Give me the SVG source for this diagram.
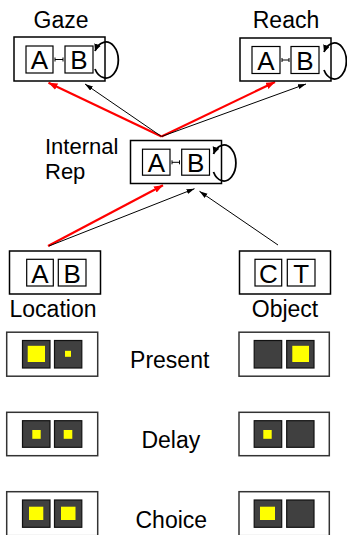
<svg xmlns="http://www.w3.org/2000/svg" width="347" height="535" viewBox="0 0 347 535">
<defs>
<style>
text{font-family:"Liberation Sans",Arial,sans-serif;fill:#000}
.lbl{font-size:23px}
.lbl2{font-size:22px}
.cell{font-size:26px;text-anchor:middle}
.box{fill:#fff;stroke:#000;stroke-width:1.5}
.ibox{fill:#fff;stroke:#000;stroke-width:1.2}
.pbox{fill:#fff;stroke:#333;stroke-width:1.5}
.dk{fill:#404040;stroke:#111;stroke-width:1.2}
.y{fill:#ffff00}
.loop{fill:none;stroke:#000;stroke-width:1.8}
.lnk{stroke:#000;stroke-width:1;fill:none}
.red{stroke:#ff0000;stroke-width:2.2;fill:none}
.blk{stroke:#000;stroke-width:1;fill:none}
</style>
<marker id="ar" markerUnits="userSpaceOnUse" markerWidth="10" markerHeight="8" refX="9" refY="3.5" orient="auto"><path d="M0,0 L9,3.5 L0,7 z" fill="#ff0000"/></marker>
<marker id="ab" markerUnits="userSpaceOnUse" markerWidth="9" markerHeight="6" refX="8" refY="2.5" orient="auto"><path d="M0,0 L8,2.5 L0,5 z" fill="#000"/></marker>
<marker id="al" markerUnits="userSpaceOnUse" markerWidth="9" markerHeight="8" refX="7" refY="3.5" orient="auto"><path d="M0,0 L7,3.5 L0,7 z" fill="#000"/></marker>
</defs>

<g id="connectors">
<line class="red" x1="161.5" y1="136.5" x2="48.5" y2="82.8" marker-end="url(#ar)"/>
<line class="blk" x1="161.5" y1="136.5" x2="85" y2="84" marker-end="url(#ab)"/>
<line class="red" x1="161.5" y1="136.5" x2="275" y2="82" marker-end="url(#ar)"/>
<line class="blk" x1="161.5" y1="136.5" x2="306" y2="84" marker-end="url(#ab)"/>
<line class="red" x1="48" y1="246" x2="163" y2="185.3" marker-end="url(#ar)"/>
<line class="blk" x1="49" y1="246" x2="194.5" y2="188.7" marker-end="url(#ab)"/>
<line class="blk" x1="278" y1="245" x2="199.5" y2="191.3" marker-end="url(#ab)"/>
</g>

<g id="gaze">
<text class="lbl" x="61" y="28" text-anchor="middle">Gaze</text>
<rect class="box" x="14" y="37" width="91" height="44"/>
<rect class="ibox" x="26" y="46" width="27" height="27"/>
<rect class="ibox" x="65" y="46" width="28" height="27"/>
<text class="cell" x="39.5" y="69">A</text>
<text class="cell" x="79" y="69">B</text>
<path class="lnk" d="M55,59.5 H63 M55,57.5 V61.5 M63,57.5 V61.5"/>
<path class="loop" d="M95,69 A12.5 18 0 1 0 95,51" marker-end="url(#al)"/>
</g>

<g id="reach">
<text class="lbl" x="286" y="28" text-anchor="middle">Reach</text>
<rect class="box" x="240" y="38" width="91" height="43"/>
<rect class="ibox" x="252" y="46.5" width="28" height="27"/>
<rect class="ibox" x="291" y="46.5" width="28" height="27"/>
<text class="cell" x="266" y="69.5">A</text>
<text class="cell" x="305" y="69.5">B</text>
<path class="lnk" d="M282,60 H289 M282,58 V62 M289,58 V62"/>
<path class="loop" d="M324,70 A12 18 0 1 0 324,52" marker-end="url(#al)"/>
</g>

<g id="internal-rep">
<text class="lbl2" x="45" y="154">Internal</text>
<text class="lbl2" x="45" y="178.8">Rep</text>
<rect class="box" x="130.5" y="140.5" width="91" height="43"/>
<rect class="ibox" x="142.5" y="149.2" width="27.5" height="26"/>
<rect class="ibox" x="181.7" y="149.2" width="27.8" height="26"/>
<text class="cell" x="156.3" y="171.5">A</text>
<text class="cell" x="195.6" y="171.5">B</text>
<path class="lnk" d="M172,162.3 H179.5 M172,160.3 V164.3 M179.5,160.3 V164.3"/>
<path class="loop" d="M213.5,172 A12 18 0 1 0 213.5,154" marker-end="url(#al)"/>
</g>

<g id="location">
<rect class="box" x="9.5" y="251" width="91" height="43"/>
<rect class="ibox" x="26.7" y="259.3" width="26.6" height="26.7"/>
<rect class="ibox" x="58.3" y="259.3" width="27.7" height="26.7"/>
<text class="cell" x="40" y="282.5">A</text>
<text class="cell" x="72.2" y="282.5">B</text>
<text class="lbl" x="53" y="316.7" text-anchor="middle">Location</text>
</g>

<g id="object">
<rect class="box" x="239.5" y="251" width="91" height="43"/>
<rect class="ibox" x="255" y="259.3" width="26.7" height="26.7"/>
<rect class="ibox" x="287.3" y="259.3" width="27.7" height="26.7"/>
<text class="cell" x="268.4" y="282.5">C</text>
<text class="cell" x="301.2" y="282.5">T</text>
<text class="lbl" x="285" y="317" text-anchor="middle">Object</text>
</g>

<g id="present">
<rect class="pbox" x="6.7" y="332.2" width="91" height="44"/>
<rect class="dk" x="22.5" y="340.5" width="27.5" height="27.5"/>
<rect class="dk" x="54.5" y="340.5" width="27.3" height="27.5"/>
<rect class="y" x="27.7" y="345.8" width="17.3" height="16.2"/>
<rect class="y" x="65" y="350.8" width="6" height="6"/>
<text class="lbl" x="169.7" y="368.3" text-anchor="middle">Present</text>
<rect class="pbox" x="239" y="332.2" width="90.3" height="44"/>
<rect class="dk" x="254.2" y="340.5" width="27.5" height="27.5"/>
<rect class="dk" x="286.7" y="340.5" width="27.3" height="27.5"/>
<rect class="y" x="292.3" y="345.8" width="16.7" height="16.2"/>
</g>

<g id="delay">
<rect class="pbox" x="6.7" y="412.3" width="91" height="43.4"/>
<rect class="dk" x="22.5" y="420.7" width="27.5" height="26.6"/>
<rect class="dk" x="54.5" y="420.7" width="27.3" height="26.6"/>
<rect class="y" x="32.3" y="430" width="8.4" height="8.8"/>
<rect class="y" x="63.7" y="430" width="8.6" height="8.8"/>
<text class="lbl" x="170.8" y="448.3" text-anchor="middle">Delay</text>
<rect class="pbox" x="239" y="412.3" width="90.3" height="43.4"/>
<rect class="dk" x="254.2" y="420.7" width="27.5" height="26.6"/>
<rect class="dk" x="286.7" y="420.7" width="27.3" height="26.6"/>
<rect class="y" x="263.3" y="430" width="8.4" height="8.8"/>
</g>

<g id="choice">
<rect class="pbox" x="6.7" y="491.7" width="91" height="44"/>
<rect class="dk" x="22.5" y="500" width="27.5" height="27.3"/>
<rect class="dk" x="54.5" y="500" width="27.3" height="27.3"/>
<rect class="y" x="29" y="506.7" width="14.3" height="13.3"/>
<rect class="y" x="61" y="506.7" width="14.5" height="13.3"/>
<text class="lbl" x="171.3" y="527.7" text-anchor="middle">Choice</text>
<rect class="pbox" x="239" y="491.7" width="90.3" height="44"/>
<rect class="dk" x="254.2" y="500" width="27.5" height="27.3"/>
<rect class="dk" x="286.7" y="500" width="27.3" height="27.3"/>
<rect class="y" x="260" y="506.7" width="15" height="13.3"/>
</g>
</svg>
